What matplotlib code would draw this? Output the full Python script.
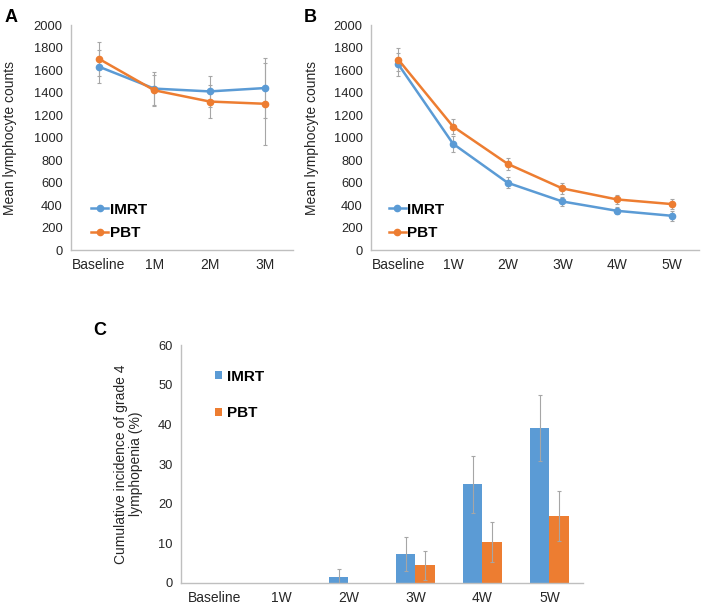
import numpy as np
import matplotlib
matplotlib.use("Agg")
from matplotlib import pyplot as plt

plt.rcParams['font.family'] = ['Liberation Sans', 'DejaVu Sans']

BLUE = '#5B9BD5'
ORANGE = '#ED7D31'
GREY = '#A6A6A6'
SPINE = '#BFBFBF'
TEXT = '#262626'

# panel A - monthly follow-up
months = ['Baseline', '1M', '2M', '3M']
imrt_m = [1630, 1435, 1410, 1440]
imrt_m_err = [145, 145, 140, 270]
pbt_m = [1700, 1420, 1320, 1300]
pbt_m_err = [150, 140, 145, 365]

# panel B - weekly during treatment
weeks = ['Baseline', '1W', '2W', '3W', '4W', '5W']
imrt_w = [1650, 945, 598, 432, 349, 305]
imrt_w_err = [100, 70, 50, 40, 30, 45]
pbt_w = [1692, 1098, 766, 548, 450, 409]
pbt_w_err = [105, 70, 52, 50, 40, 45]

# panel C - cumulative incidence of grade 4 lymphopenia (%)
imrt_c = [0, 0, 1.5, 7.4, 24.9, 39.0]
imrt_c_err = [0, 0, 2.0, 4.3, 7.2, 8.3]
pbt_c = [0, 0, 0, 4.45, 10.3, 16.9]
pbt_c_err = [0, 0, 0, 3.6, 5.0, 6.2]


def style_axes(ax):
    for s in ['top', 'right']:
        ax.spines[s].set_visible(False)
    for s in ['left', 'bottom']:
        ax.spines[s].set_color(SPINE)
        ax.spines[s].set_linewidth(1.0)
    ax.tick_params(length=0, colors=TEXT, pad=6)
    ax.tick_params(axis='x', labelsize=10)
    ax.tick_params(axis='y', labelsize=9.3)


def line_panel(ax, cats, imrt, imrt_err, pbt, pbt_err, leg_x):
    x = np.arange(len(cats))
    for vals, err, col, name in [(imrt, imrt_err, BLUE, 'IMRT'), (pbt, pbt_err, ORANGE, 'PBT')]:
        ax.errorbar(x, vals, yerr=err, fmt='none', ecolor=GREY, elinewidth=0.8,
                    capsize=1.5, capthick=0.8, zorder=1)
        ax.plot(x, vals, color=col, lw=1.8, marker='o', ms=4.5, label=name, zorder=3)
    ax.set_xlim(-0.5, len(cats) - 0.5)
    ax.set_ylim(0, 2000)
    ax.set_yticks(range(0, 2001, 200))
    ax.set_xticks(x)
    ax.set_xticklabels(cats)
    ax.set_ylabel('Mean lymphocyte counts', fontsize=10, color=TEXT)
    style_axes(ax)
    ax.legend(loc='lower left', bbox_to_anchor=(leg_x, 0.003), frameon=False,
              prop={'weight': 'bold', 'size': 11}, handlelength=1.1,
              handletextpad=0.1, labelspacing=0.63, borderaxespad=0.2)


fig = plt.figure(figsize=(7.04, 6.10), dpi=100)

axA = fig.add_axes([0.101, 0.590, 0.315, 0.369])
line_panel(axA, months, imrt_m, imrt_m_err, pbt_m, pbt_m_err, 0.05)
axA.yaxis.set_label_coords(-0.245, 0.5)

axB = fig.add_axes([0.527, 0.590, 0.466, 0.369])
line_panel(axB, weeks, imrt_w, imrt_w_err, pbt_w, pbt_w_err, 0.027)
axB.yaxis.set_label_coords(-0.16, 0.5)

axC = fig.add_axes([0.257, 0.0443, 0.571, 0.390])
xc = np.arange(len(weeks))
bw = 0.285
axC.bar(xc - bw / 2, imrt_c, width=bw, color=BLUE, label='IMRT', zorder=2)
axC.bar(xc + bw / 2, pbt_c, width=bw, color=ORANGE, label='PBT', zorder=2)
for i in range(len(weeks)):
    if imrt_c_err[i] > 0:
        axC.errorbar(xc[i] - bw / 2, imrt_c[i], yerr=imrt_c_err[i], fmt='none',
                     ecolor=GREY, elinewidth=0.8, capsize=1.5, capthick=0.8, zorder=3)
    if pbt_c_err[i] > 0:
        axC.errorbar(xc[i] + bw / 2, pbt_c[i], yerr=pbt_c_err[i], fmt='none',
                     ecolor=GREY, elinewidth=0.8, capsize=1.5, capthick=0.8, zorder=3)
axC.set_xlim(-0.5, len(weeks) - 0.5)
axC.set_ylim(0, 60)
axC.set_yticks(range(0, 61, 10))
axC.set_xticks(xc)
axC.set_xticklabels(weeks)
axC.set_ylabel('Cumulative incidence of grade 4\nlymphopenia (%)', fontsize=10,
               color=TEXT, linespacing=1.1)
axC.yaxis.set_label_coords(-0.095, 0.5)
style_axes(axC)
axC.legend(loc='upper left', bbox_to_anchor=(0.05, 0.955), frameon=False,
           prop={'weight': 'bold', 'size': 11}, handlelength=0.45, handleheight=0.45,
           handletextpad=0.35, labelspacing=1.5)

fig.text(0.006, 0.985, 'A', fontsize=13, fontweight='bold', va='top')
fig.text(0.432, 0.985, 'B', fontsize=13, fontweight='bold', va='top')
fig.text(0.132, 0.472, 'C', fontsize=13, fontweight='bold', va='top')

fig.savefig('out.png', dpi=100)
